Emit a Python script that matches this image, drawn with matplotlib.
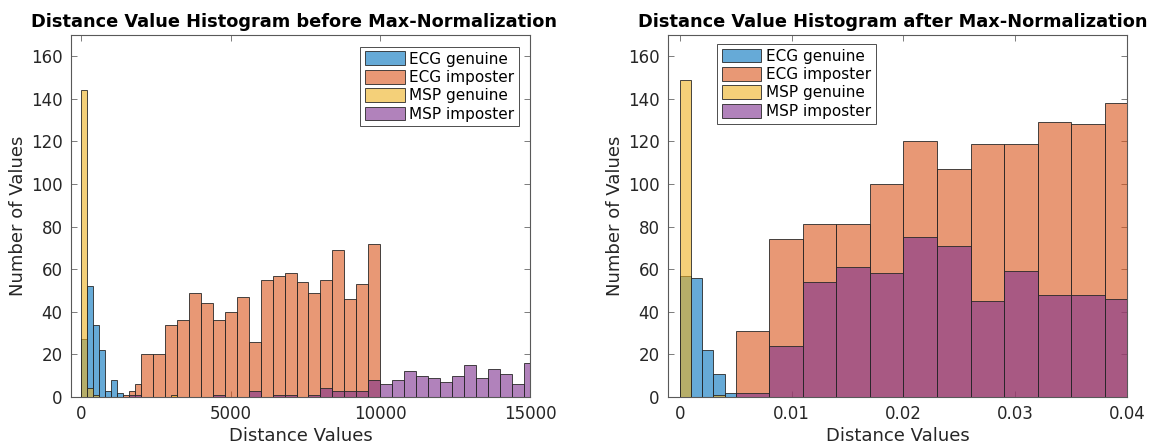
import numpy as np
import matplotlib
matplotlib.use("Agg")
import matplotlib.pyplot as plt
from matplotlib.ticker import FuncFormatter

# ---- data ----
series_names = ["ECG genuine", "ECG imposter", "MSP genuine", "MSP imposter"]

# left panel: raw distances
left_ecg_gen_start, left_ecg_gen_width = 0, 200
left_ecg_gen = [27, 52, 34, 22, 3, 8, 2]

left_ecg_imp_edges_head = [1400, 1600, 1800, 2000]
left_ecg_imp_head = [1, 3, 6]
left_ecg_imp_start, left_ecg_imp_width = 2000, 400
left_ecg_imp = [20, 20, 34, 36, 49, 44, 36, 40, 47, 26,
                55, 57, 58, 54, 49, 55, 69, 46, 53, 72]

left_msp_gen_start, left_msp_gen_width = 0, 200
left_msp_gen = [144, 4, 1, 0, 0, 0, 0, 0, 0, 0, 0, 0, 0, 0, 0, 1]

left_msp_imp_start, left_msp_imp_width = 0, 400
left_msp_imp = [0, 0, 0, 0, 1, 0, 0, 0, 0, 0, 0, 1, 0, 0, 3, 0, 1, 1, 0, 1,
                4, 3, 3, 3, 8, 6, 8, 12, 10, 9, 7, 10, 15, 9, 13, 11, 6, 16]

# right panel: max-normalized distances
right_ecg_gen_start, right_ecg_gen_width = 0.0, 0.001
right_ecg_gen = [57, 56, 22, 11, 2]

right_ecg_imp_start, right_ecg_imp_width = 0.005, 0.003
right_ecg_imp = [31, 74, 81, 81, 100, 120, 107, 119, 119, 129, 128, 138]

right_msp_gen_start, right_msp_gen_width = 0.0, 0.001
right_msp_gen = [149, 0, 0, 1]

right_msp_imp_start, right_msp_imp_width = 0.005, 0.003
right_msp_imp = [2, 24, 54, 61, 58, 75, 71, 45, 59, 48, 48, 46]

# matlab default colour order, FaceAlpha 0.6
colors = [(0.0, 0.447, 0.741), (0.850, 0.325, 0.098),
          (0.929, 0.694, 0.125), (0.494, 0.184, 0.556)]
edge = (0.15, 0.15, 0.15)
axcol = (0.15, 0.15, 0.15)


def draw_hist(ax, edges, counts, color, label, z):
    edges = np.asarray(edges, dtype=float)
    counts = np.asarray(counts, dtype=float)
    ax.bar(edges[:-1], counts, width=np.diff(edges), align="edge",
           facecolor=color + (0.6,), edgecolor=edge + (0.85,),
           linewidth=0.7, label=label, zorder=z)


def uniform_edges(start, width, counts):
    return start + width * np.arange(len(counts) + 1)


def style_axes(ax):
    for sp in ax.spines.values():
        sp.set_color("0.35")
        sp.set_linewidth(0.8)
    ax.tick_params(direction="in", top=True, right=True, length=4,
                   width=0.6, color="0.4", labelcolor=axcol, labelsize=12, pad=6)
    ax.set_ylim(0, 170)
    ax.set_yticks(np.arange(0, 161, 20))
    ax.set_xlabel("Distance Values", fontsize=13, color=axcol, labelpad=3)
    ax.set_ylabel("Number of Values", fontsize=13, color=axcol, labelpad=3)


fig = plt.figure(figsize=(11.67, 4.45), dpi=100)
ax1 = fig.add_axes([0.0608, 0.108, 0.3934, 0.8135])
ax2 = fig.add_axes([0.5724, 0.108, 0.3933, 0.8135])

# left
draw_hist(ax1, uniform_edges(left_ecg_gen_start, left_ecg_gen_width, left_ecg_gen),
          left_ecg_gen, colors[0], series_names[0], 2)
imp_edges = np.concatenate([left_ecg_imp_edges_head[:-1],
                            uniform_edges(left_ecg_imp_start, left_ecg_imp_width, left_ecg_imp)])
draw_hist(ax1, imp_edges, left_ecg_imp_head + left_ecg_imp, colors[1], series_names[1], 3)
draw_hist(ax1, uniform_edges(left_msp_gen_start, left_msp_gen_width, left_msp_gen),
          left_msp_gen, colors[2], series_names[2], 4)
draw_hist(ax1, uniform_edges(left_msp_imp_start, left_msp_imp_width, left_msp_imp),
          left_msp_imp, colors[3], series_names[3], 5)
ax1.set_xlim(-333, 15000)
ax1.set_xticks([0, 5000, 10000, 15000])
style_axes(ax1)
ax1.set_title("Distance Value Histogram before Max-Normalization",
              fontsize=12.8, fontweight="bold", pad=6, x=0.486)
leg1 = ax1.legend(loc="upper right", bbox_to_anchor=(0.976, 0.967), fontsize=11,
                  fancybox=False, framealpha=1, edgecolor="0.3",
                  handlelength=2.6, handleheight=1.0, labelspacing=0.22,
                  handletextpad=0.3, borderpad=0.3, borderaxespad=0)
leg1.get_frame().set_linewidth(0.7)

# right
draw_hist(ax2, uniform_edges(right_ecg_gen_start, right_ecg_gen_width, right_ecg_gen),
          right_ecg_gen, colors[0], series_names[0], 2)
draw_hist(ax2, uniform_edges(right_ecg_imp_start, right_ecg_imp_width, right_ecg_imp),
          right_ecg_imp, colors[1], series_names[1], 3)
draw_hist(ax2, uniform_edges(right_msp_gen_start, right_msp_gen_width, right_msp_gen),
          right_msp_gen, colors[2], series_names[2], 4)
draw_hist(ax2, uniform_edges(right_msp_imp_start, right_msp_imp_width, right_msp_imp),
          right_msp_imp, colors[3], series_names[3], 5)
ax2.set_xlim(-0.00107, 0.04)
ax2.set_xticks([0, 0.01, 0.02, 0.03, 0.04])
ax2.xaxis.set_major_formatter(FuncFormatter(lambda v, p: "%g" % round(v, 4)))
style_axes(ax2)
ax2.set_title("Distance Value Histogram after Max-Normalization",
              fontsize=12.8, fontweight="bold", pad=6, x=0.489)
leg2 = ax2.legend(loc="upper left", bbox_to_anchor=(0.107, 0.975), fontsize=11,
                  fancybox=False, framealpha=1, edgecolor="0.3",
                  handlelength=2.6, handleheight=1.0, labelspacing=0.22,
                  handletextpad=0.3, borderpad=0.3, borderaxespad=0)
leg2.get_frame().set_linewidth(0.7)

fig.savefig("out.png", dpi=100)
